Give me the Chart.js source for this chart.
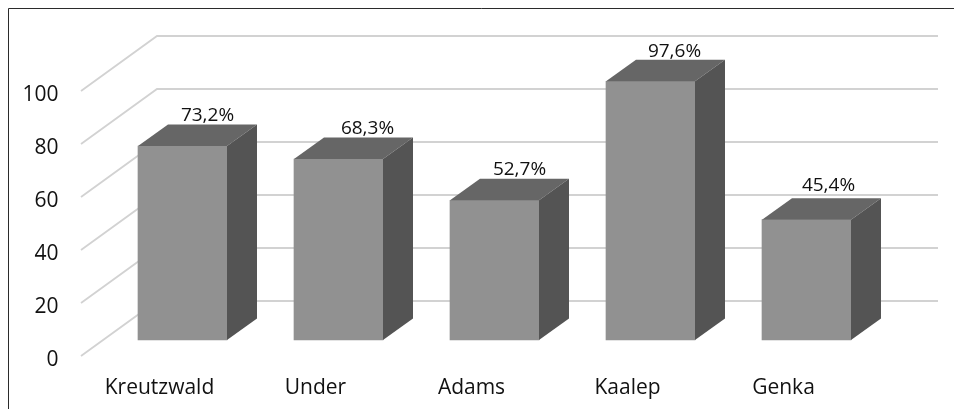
<!DOCTYPE html>
<html>
<head>
<meta charset="utf-8">
<title>Chart</title>
<style>
  html, body { margin: 0; padding: 0; background: #fff; }
  canvas { display: block; }
</style>
<script src="https://cdn.jsdelivr.net/npm/chart.js@4"></script>
</head>
<body>
<canvas id="chart" width="954" height="409"></canvas>
<script>
const categories = ['Kreutzwald', 'Under', 'Adams', 'Kaalep', 'Genka'];
const values = [73.2, 68.3, 52.7, 97.6, 45.4];
const tickStep = 20;

const fontFamily = '"Open Sans", sans-serif';

// depth of the box and of the back wall, in pixels
const barDepth = { x: 30, y: 21.5 };
const wallDepth = { x: 76, y: 55 };
const gridLeft = 81;
const gridRight = 938;
// Open Sans digits sit above the middle of their box, so the grid is lifted to meet them
const gridLift = 4;
// value labels do not sit quite evenly over the boxes
const labelShiftX = [25, 29, 25, 24, 22];
const labelShiftY = [30, 30.5, 30.5, 29.5, 34.5];

function polygon(ctx, points, color) {
    ctx.fillStyle = color;
    ctx.beginPath();
    points.forEach((p, i) => (i ? ctx.lineTo(p[0], p[1]) : ctx.moveTo(p[0], p[1])));
    ctx.closePath();
    ctx.fill();
}

function formatValue(v) {
    return v.toFixed(1).replace('.', ',') + '%';
}

const wallPlugin = {
    id: 'wall',
    beforeDatasetsDraw(chart) {
        const ctx = chart.ctx;
        const yScale = chart.scales.y;
        ctx.save();
        ctx.strokeStyle = '#2b2b2b';
        ctx.lineWidth = 1;
        ctx.beginPath();
        ctx.moveTo(8.5, 409);
        ctx.lineTo(8.5, 8.5);
        ctx.lineTo(954, 8.5);
        ctx.stroke();

        ctx.strokeStyle = '#d2d2d2';
        ctx.lineWidth = 1.8;
        yScale.ticks.forEach(tick => {
            const y = yScale.getPixelForValue(tick.value) - gridLift;
            ctx.beginPath();
            ctx.moveTo(gridLeft, y);
            ctx.lineTo(gridLeft + wallDepth.x, y - wallDepth.y);
            ctx.lineTo(gridRight, y - wallDepth.y);
            ctx.stroke();
        });
        ctx.restore();
    }
};

// top and side faces of each bar, plus its value label
const boxPlugin = {
    id: 'box',
    afterDatasetsDraw(chart) {
        const ctx = chart.ctx;
        const bars = chart.getDatasetMeta(0).data;
        ctx.save();
        bars.forEach((bar, i) => {
            const left = bar.x - bar.width / 2;
            const right = bar.x + bar.width / 2;
            const dx = barDepth.x;
            const dy = barDepth.y;
            polygon(ctx, [[left, bar.y], [left + dx, bar.y - dy], [right + dx, bar.y - dy], [right, bar.y]], '#666666');
            polygon(ctx, [[right, bar.y], [right + dx, bar.y - dy], [right + dx, bar.base - dy], [right, bar.base]], '#545454');

            ctx.fillStyle = '#111';
            ctx.font = '19px ' + fontFamily;
            ctx.textAlign = 'center';
            ctx.textBaseline = 'middle';
            ctx.fillText(formatValue(values[i]), bar.x + labelShiftX[i], bar.y - labelShiftY[i]);
        });
        ctx.restore();
    }
};

new Chart(document.getElementById('chart'), {
    type: 'bar',
    data: {
        labels: categories,
        datasets: [{
            data: values,
            yAxisID: 'yBar',
            backgroundColor: '#919191',
            barThickness: 89,
            clip: false
        }]
    },
    options: {
        responsive: false,
        animation: false,
        layout: { padding: { top: 95, right: 69.5, left: 0, bottom: 0 } },
        plugins: { legend: { display: false }, tooltip: { enabled: false } },
        scales: {
            x: {
                grid: { display: false, drawTicks: false },
                border: { display: false },
                afterFit: scale => { scale.height = 49; },
                ticks: {
                    color: '#111',
                    font: { family: fontFamily, size: 21 },
                    labelOffset: -23,
                    padding: 15,
                    maxRotation: 0
                }
            },
            y: {
                min: 0,
                max: 100,
                grid: { display: false, drawTicks: false },
                border: { display: false },
                afterFit: scale => {
                    scale.width = 104.5;
                    scale.paddingTop = 0;
                    scale.paddingBottom = 0;
                },
                ticks: {
                    stepSize: tickStep,
                    color: '#111',
                    font: { family: fontFamily, size: 21 },
                    padding: 46
                }
            },
            // the bars stand above the front edge of the floor
            yBar: {
                display: false,
                min: -7.55,
                max: 92.45
            }
        }
    },
    plugins: [wallPlugin, boxPlugin]
});
</script>
</body>
</html>
